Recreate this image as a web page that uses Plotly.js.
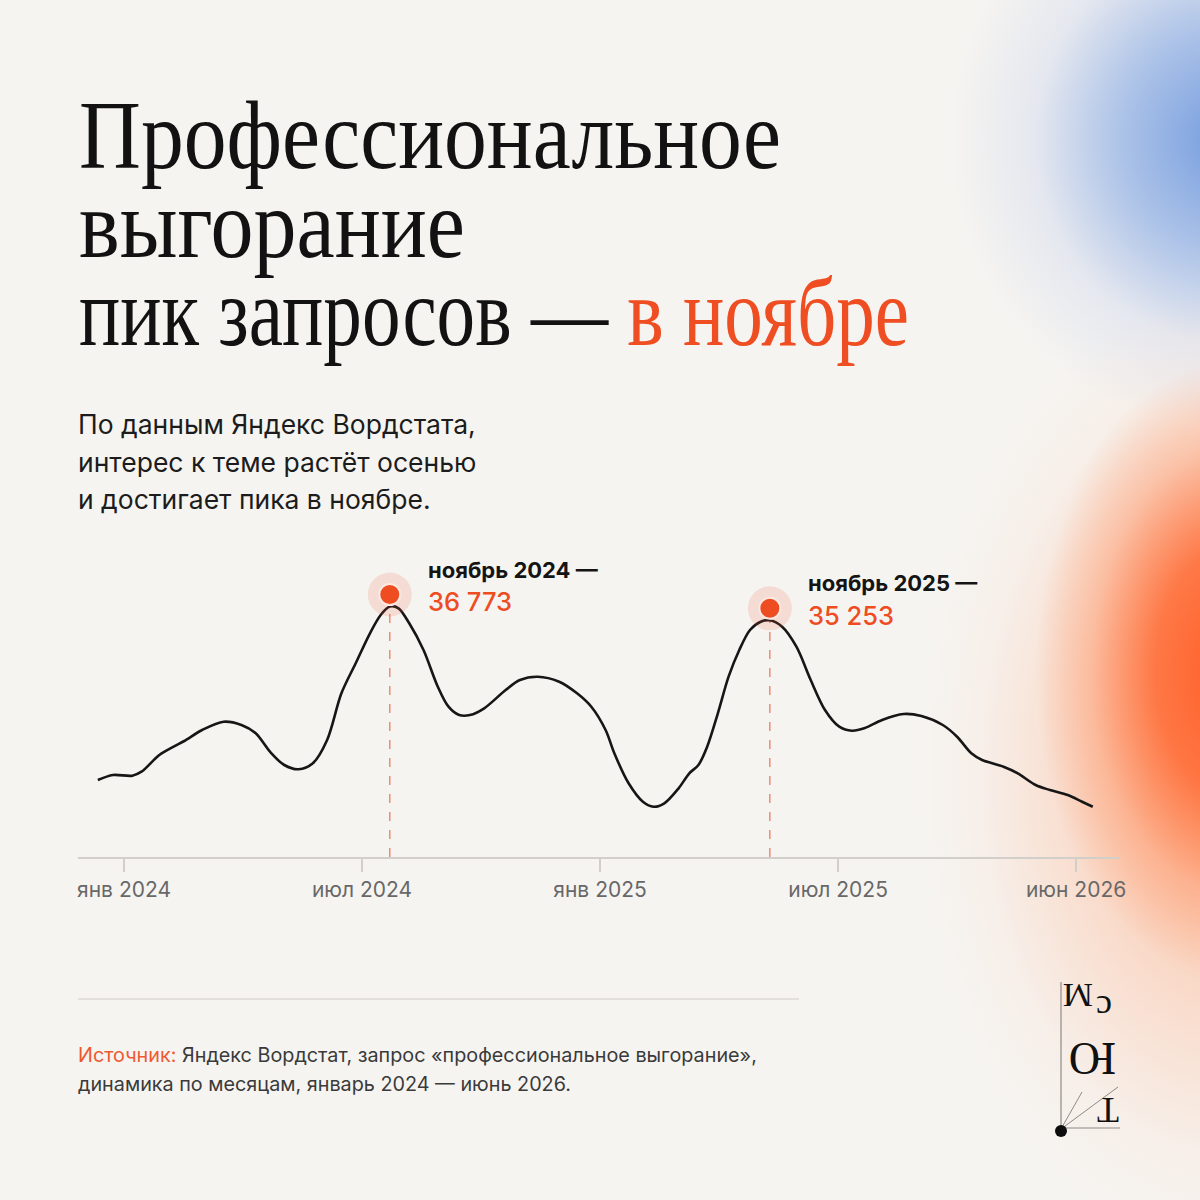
<!DOCTYPE html>
<html>
<head>
<meta charset="utf-8">
<script src="https://cdn.plot.ly/plotly-3.0.1.min.js"></script>
<style>
  html, body { margin:0; padding:0; }
  body {
    width:1200px; height:1200px; overflow:hidden;
    background:
      radial-gradient(ellipse 200px 310px at 1235px 670px, rgba(255,92,38,1) 0%, rgba(255,105,50,0.85) 40%, rgba(255,140,90,0.4) 72%, rgba(255,170,130,0) 100%),
      radial-gradient(ellipse 310px 480px at 1230px 770px, rgba(255,150,100,0.65) 0%, rgba(255,175,135,0.35) 50%, rgba(255,200,170,0.12) 80%, rgba(255,210,180,0) 100%),
      radial-gradient(ellipse 280px 290px at 1230px 140px, rgba(115,155,222,1) 0%, rgba(140,173,228,0.68) 40%, rgba(185,200,235,0.28) 70%, rgba(220,225,240,0) 100%),
      #f6f4f1;
  }
  #chart { width:1200px; height:1200px; }
</style>
</head>
<body>
<div id="chart"></div>
<script>
// ---- data ----
const xMonths = [-0.66,-0.28,0.21,0.44,0.89,1.25,1.52,1.97,2.51,2.96,
  3.32,3.68,4.04,4.40,4.76,5.12,5.48,5.84,6.20,6.47,
  6.70,6.92,7.19,7.55,7.91,8.18,8.45,8.72,9.08,9.62,
  9.98,10.43,10.97,11.42,11.78,12.14,12.36,12.72,13.08,13.35,
  13.62,13.98,14.25,14.48,14.70,14.97,15.24,15.51,15.78,16.05,
  16.28,16.59,16.95,17.31,17.67,18.03,18.35,18.66,19.11,19.65,
  20.10,20.64,21.00,21.36,21.63,22.17,22.53,22.98,23.34,23.79,
  24.15,24.42];
const values = [17688,18238,18161,18601,20438,21351,21978,23188,24101,23738,
  22825,20801,19338,18865,19525,22088,27225,30525,33825,35838,
  36773,36575,34925,31988,27951,25751,24838,24838,25575,27588,
  28688,29051,28501,27225,25751,23188,20625,17325,15301,14751,
  15125,16775,18425,19338,21351,25025,29051,31988,34188,35101,
  35253,34551,32351,28688,25388,23551,23111,23375,24288,24948,
  24728,23738,22451,20625,19888,19151,18425,17138,16588,16038,
  15301,14751];
const peakMonths = [6.70, 16.28];
const peakValues = [36773, 35253];
const peakLabels = ['ноябрь 2024 —', 'ноябрь 2025 —'];
const tickVals = [0, 6, 12, 18, 24];
const tickText = ['янв 2024', 'июл 2024', 'янв 2025', 'июл 2025', 'июн 2026'];

// ---- layout helpers (pixel → paper) ----
const L = 78, R = 1120, T = 540, B = 857;
const px = x => (x - L) / (R - L);
const py = y => (B - y) / (B - T);
const yRange = [9218, 44088];
const fmt = v => String(v).replace(/\B(?=(\d{3})+(?!\d))/g, ' ');

const ORANGE = '#ee4d21';
const SANS = 'Inter, "Noto Sans", sans-serif';
const SERIF = '"Liberation Serif", "DejaVu Serif", serif';

const annotations = [];
function txt(text, x, y, size, color, family, extra) {
  annotations.push(Object.assign({
    text, xref:'paper', yref:'paper', x:px(x), y:py(y),
    xanchor:'left', yanchor:'middle', showarrow:false,
    font:{family, size, color}
  }, extra || {}));
}
// title (indices 0..2)
txt('Профессиональное', 77, 135, 98, '#121212', SERIF);
txt('выгорание', 77, 224, 98, '#121212', SERIF);
txt('пик запросов — <span style="color:#ef4e23">в ноябре</span>', 77, 312, 98, '#121212', SERIF);
const titleWidths = [702, 386, 830];
// subtitle
txt('По данным Яндекс Вордстата,', 76, 424, 26.5, '#1c1c1c', SANS);
txt('интерес к теме растёт осенью', 76, 461.5, 26.5, '#1c1c1c', SANS);
txt('и достигает пика в ноябре.', 76, 499, 26.5, '#1c1c1c', SANS);
// footer
txt('<span style="color:#ee5a30">Источник:</span> Яндекс Вордстат, запрос «профессиональное выгорание»,', 76, 1055, 19.8, '#3a3a3a', SANS);
txt('динамика по месяцам, январь 2024 — июнь 2026.', 76, 1083.5, 19.8, '#3a3a3a', SANS);

// peak labels anchored to data
peakMonths.forEach((m, i) => {
  annotations.push({
    text: '<b>' + peakLabels[i] + '</b>', xref:'x', yref:'y', x:m, y:peakValues[i],
    xanchor:'left', yanchor:'middle', xshift:36, yshift:37,
    showarrow:false, font:{family:SANS, size:22, color:'#141414', weight:600}
  });
  annotations.push({
    text: fmt(peakValues[i]), xref:'x', yref:'y', x:m, y:peakValues[i],
    xanchor:'left', yanchor:'middle', xshift:36, yshift:5,
    showarrow:false, font:{family:SANS, size:25.5, color:ORANGE, weight:500}
  });
});

// logo glyphs
const logo = (t, x, y, s) => annotations.push({text:t, xref:'paper', yref:'paper', x:px(x), y:py(y),
  xanchor:'center', yanchor:'middle', textangle:180, showarrow:false,
  font:{family:SERIF, size:s, color:'#111'}});
logo('М', 1078, 996, 34);
logo('с', 1104, 1008, 36);
logo('Ю', 1093, 1059, 46);
logo('Т', 1108, 1110, 36);

const shapes = [];
// dashed guides
peakMonths.forEach((m, i) => {
  shapes.push({type:'line', xref:'x', yref:'y', x0:m, x1:m, y0:yRange[0], y1:peakValues[i],
    layer:'below', line:{color:'#f07a5a', width:1.3, dash:'dash'}});
});
// halo + dot (pixel sized, anchored at peak)
peakMonths.forEach((m, i) => {
  shapes.push({type:'circle', xref:'x', yref:'y', xsizemode:'pixel', ysizemode:'pixel',
    xanchor:m, yanchor:peakValues[i], x0:-22, x1:22, y0:-10, y1:34,
    fillcolor:'rgba(238,95,60,0.16)', line:{width:0}, layer:'above'});
  shapes.push({type:'circle', xref:'x', yref:'y', xsizemode:'pixel', ysizemode:'pixel',
    xanchor:m, yanchor:peakValues[i], x0:-10.5, x1:10.5, y0:1.5, y1:22.5,
    fillcolor:ORANGE, line:{color:'#fbe9e2', width:2}, layer:'above'});
});
// footer rule
shapes.push({type:'line', xref:'paper', yref:'paper', x0:px(78), x1:px(799), y0:py(999), y1:py(999),
  line:{color:'#dcd8d3', width:1.5}});
// logo lines
const LG = '#8f8a85';
shapes.push({type:'line', xref:'paper', yref:'paper', x0:px(1061), x1:px(1061), y0:py(982), y1:py(1129),
  line:{color:LG, width:1.2}});
shapes.push({type:'line', xref:'paper', yref:'paper', x0:px(1061), x1:px(1120), y0:py(1128), y1:py(1128),
  line:{color:LG, width:1.2}});
shapes.push({type:'line', xref:'paper', yref:'paper', x0:px(1061), x1:px(1082), y0:py(1129), y1:py(1092),
  line:{color:LG, width:1}});
shapes.push({type:'line', xref:'paper', yref:'paper', x0:px(1061), x1:px(1118), y0:py(1129), y1:py(1087),
  line:{color:LG, width:1}});
shapes.push({type:'circle', xref:'paper', yref:'paper', x0:px(1055), x1:px(1067), y0:py(1125), y1:py(1137),
  fillcolor:'#0d0d0d', line:{width:0}});

const trace = {
  x: xMonths, y: values, type:'scatter', mode:'lines',
  line:{color:'#161616', width:2.6, shape:'spline', smoothing:0.9},
  hoverinfo:'skip'
};

const layout = {
  width:1200, height:1200,
  margin:{l:L, r:1200-R, t:T, b:1200-B, pad:0},
  paper_bgcolor:'rgba(0,0,0,0)', plot_bgcolor:'rgba(0,0,0,0)',
  showlegend:false,
  xaxis:{
    range:[-1.16, 25.107], showgrid:false, zeroline:false,
    showline:true, linecolor:'#d2cec9', linewidth:1.5,
    ticks:'outside', ticklen:13, tickwidth:1.5, tickcolor:'#d2cec9',
    tickvals:tickVals, ticktext:tickText,
    tickfont:{family:SANS, size:21, color:'#686868'},
    fixedrange:true
  },
  yaxis:{range:yRange, visible:false, fixedrange:true},
  annotations, shapes
};

Plotly.newPlot('chart', [trace], layout, {displayModeBar:false, staticPlot:true}).then(gd => {
  // condense the serif title lines horizontally to match the reference's narrow face
  const get = i => gd.querySelector('g.annotation[data-index="' + i + '"] text.annotation-text');
  [0, 1, 2].forEach(i => {
    const t = get(i);
    if (!t) return;
    const b = t.getBBox();
    const s = titleWidths[i] / b.width;
    t.setAttribute('transform', 'translate(' + (b.x * (1 - s)) + ',0) scale(' + s + ',1)');
  });
});
</script>
</body>
</html>
